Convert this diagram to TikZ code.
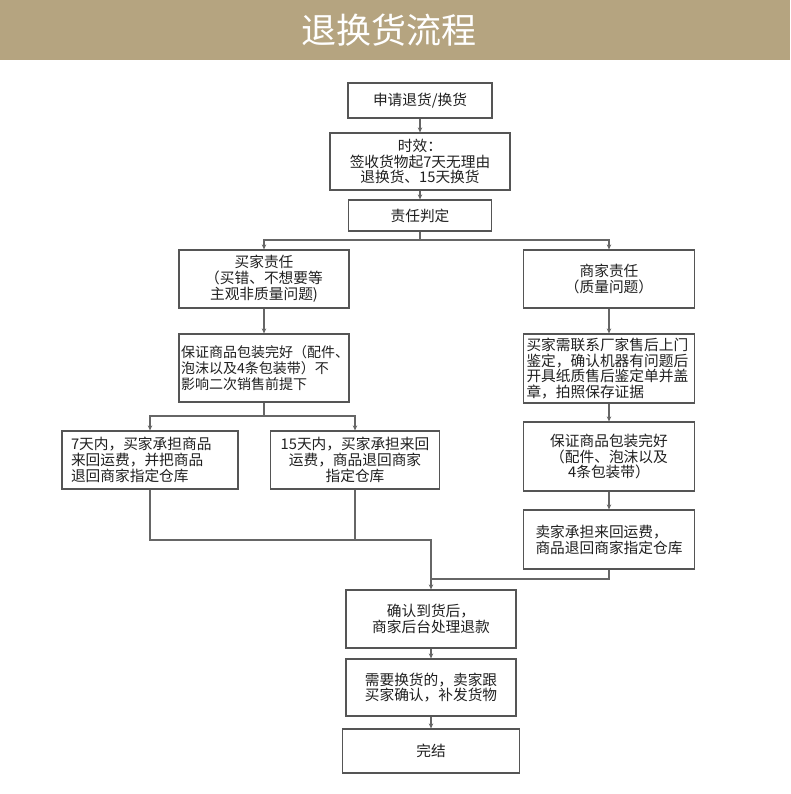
\documentclass[tikz,border=0pt]{standalone}
\usepackage{fontspec}
\newfontfamily\cjk{Noto Sans CJK SC}
\usetikzlibrary{arrows.meta}
\definecolor{barc}{HTML}{B5A480}
\definecolor{linec}{HTML}{666666}
\definecolor{boxc}{HTML}{555555}
\definecolor{txtc}{HTML}{202020}
\begin{document}
\begin{tikzpicture}[x=1pt,y=-1pt,
  box/.style={draw=boxc, line width=1.2pt, fill=white, inner sep=3pt, text=txtc,
    font=\cjk\fontsize{14.7}{15.8}\selectfont, align=center},
  lbox/.style={box, align=left},
  link/.style={draw=linec, line width=1.1pt},
  arr/.style={link, -{Stealth[length=5pt,width=4.5pt]}}]
\useasboundingbox (0,0) rectangle (790,794);
\fill[white] (0,0) rectangle (790,794);
\fill[barc] (0,0) rectangle (790,60);
\node[text=white, font=\cjk\fontsize{35}{38}\selectfont] (title) at (389,30) {退换货流程};

\node[box, text width=138pt, minimum height=35pt] (b1) at (420,100.5) {申请退货/换货};
\node[box, text width=174pt, minimum height=57pt] (b2) at (420,161.5) {时效：\\签收货物起7天无理由\\退换货、15天换货};
\node[box, text width=137pt, minimum height=31pt] (b3) at (420,215.5) {责任判定};

\node[box, text width=164pt, minimum height=58pt] (buyer) at (264,279) {买家责任\\（买错、不想要等\\主观非质量问题)};
\node[box, text width=165pt, minimum height=58pt] (merch) at (609,279) {商家责任\\（质量问题）};

\node[lbox, text width=166pt, minimum height=68pt, inner xsep=2pt, font=\cjk\fontsize{14}{15.8}\selectfont] (g1) at (264,368) {保证商品包装完好（配件、\\泡沫以及4条包装带）不\\影响二次销售前提下};

\node[lbox, text width=158pt, minimum height=58pt, inner xsep=9pt] (d7) at (150,460) {7天内，买家承担商品\\来回运费，并把商品\\退回商家指定仓库};
\node[box, text width=163pt, minimum height=58pt] (d15) at (355,460) {15天内，买家承担来回\\运费，商品退回商家\\指定仓库};

\node[lbox, text width=165pt, minimum height=69pt, inner xsep=3pt] (m1) at (609,368.5) {买家需联系厂家售后上门\\鉴定，确认机器有问题后\\开具纸质售后鉴定单并盖\\章，拍照保存证据};
\node[box, text width=165pt, minimum height=69pt] (m2) at (609,456.5) {保证商品包装完好\\（配件、泡沫以及\\4条包装带）};
\node[lbox, text width=147pt, minimum height=59pt, inner xsep=12pt] (m3) at (609,539.5) {卖家承担来回运费，\\商品退回商家指定仓库};

\node[box, text width=164pt, minimum height=58pt] (c1) at (431,619) {确认到货后，\\商家后台处理退款};
\node[box, text width=164pt, minimum height=57pt] (c2) at (431,687.5) {需要换货的，卖家跟\\买家确认，补发货物};
\node[box, text width=171pt, minimum height=44pt] (c3) at (431,751) {完结};

\coordinate (j1) at (420,240);
\coordinate (j2) at (264,416);
\coordinate (j3) at (431,540);
\coordinate (j4) at (431,579);

\draw[arr] (b1.south) -- (b1.south |- b2.north);
\draw[arr] (b2.south) -- (b3.north);
\draw[link] (b3.south) -- (j1);
\draw[arr] (j1) -| (buyer.north);
\draw[arr] (j1) -| (merch.north);
\draw[arr] (buyer.south) -- (g1.north);
\draw[link] (g1.south) -- (j2);
\draw[arr] (j2) -| (d7.north);
\draw[arr] (j2) -| (d15.north);
\draw[link] (d7.south) |- (j3) -- (j4);
\draw[link] (d15.south) -- (d15.south |- j3);
\draw[arr] (merch.south) -- (m1.north);
\draw[arr] (m1.south) -- (m2.north);
\draw[arr] (m2.south) -- (m3.north);
\draw[arr] (m3.south) |- (j4) -- (c1.north);
\draw[arr] (c1.south) -- (c2.north);
\draw[arr] (c2.south) -- (c3.north);
\end{tikzpicture}
\end{document}
